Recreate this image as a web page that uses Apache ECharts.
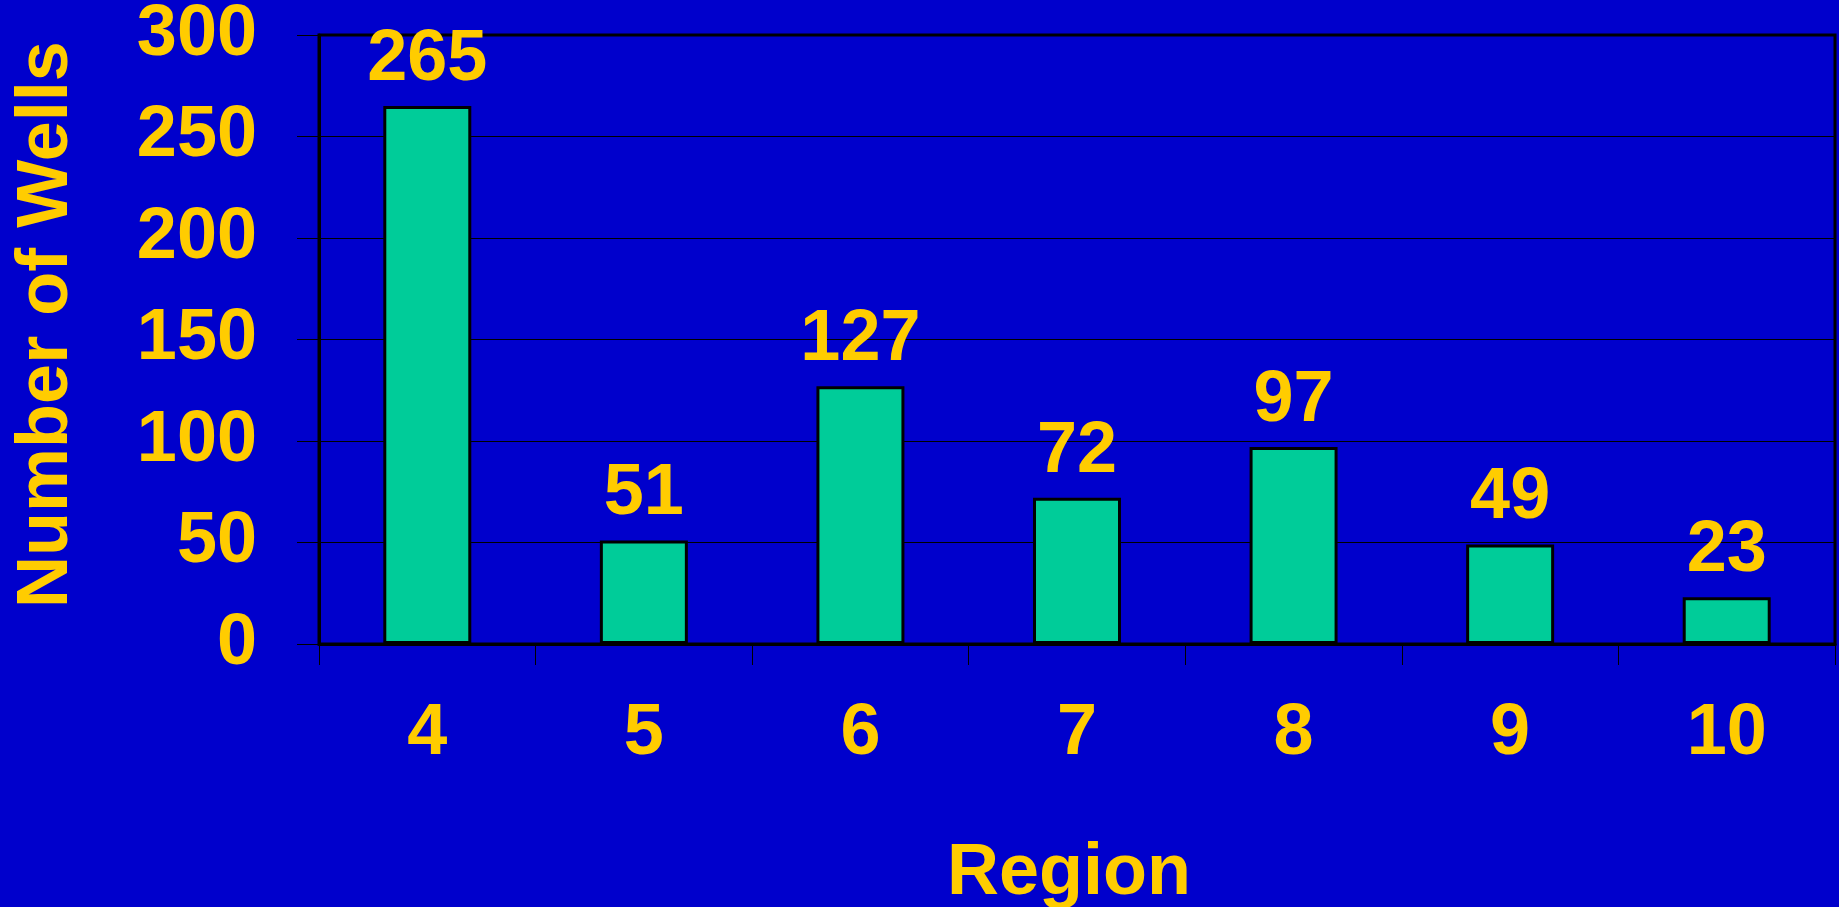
<!DOCTYPE html>
<html>
<head>
<meta charset="utf-8">
<script src="https://cdn.jsdelivr.net/npm/echarts@6/dist/echarts.min.js"></script>
<style>
  html, body { margin: 0; padding: 0; background: #0000CC; }
  #chart { width: 1839px; height: 907px; }
</style>
</head>
<body>
<div id="chart"></div>
<script>
// Wells counted per region
const regions = ['4', '5', '6', '7', '8', '9', '10'];
const wellCounts = [265, 51, 127, 72, 97, 49, 23];
const yTicks = { min: 0, max: 300, interval: 50 };

const FONT = '"Liberation Sans", Arial, sans-serif';
const YELLOW = '#FFCC00';

const chart = echarts.init(document.getElementById('chart'), null, { renderer: 'canvas' });

chart.setOption({
  backgroundColor: '#0000CC',
  animation: false,
  grid: {
    left: 319, right: 4, top: 35, bottom: 263,
    outerBoundsMode: 'none', containLabel: false,
    show: true, borderColor: '#000', borderWidth: 3, backgroundColor: 'transparent'
  },
  xAxis: {
    type: 'category',
    data: regions,
    name: 'Region',
    nameLocation: 'middle',
    nameGap: 194,
    nameTextStyle: { color: YELLOW, fontFamily: FONT, fontWeight: 'bold', fontSize: 72, padding: [0, 16, 0, 0] },
    axisLine: { show: true, lineStyle: { color: '#000', width: 3 } },
    axisTick: { show: true, alignWithLabel: false, length: 21, lineStyle: { color: '#000', width: 1 } },
    axisLabel: { color: YELLOW, fontFamily: FONT, fontWeight: 'bold', fontSize: 72, margin: 54 }
  },
  yAxis: {
    type: 'value',
    min: yTicks.min, max: yTicks.max, interval: yTicks.interval,
    name: 'Number of Wells',
    nameLocation: 'middle',
    nameGap: 236,
    nameRotate: 90,
    nameTextStyle: { color: YELLOW, fontFamily: FONT, fontWeight: 'bold', fontSize: 72, padding: [0, 0, 0, 30] },
    axisLine: { show: true, lineStyle: { color: '#000', width: 3 } },
    axisTick: { show: true, length: 22, lineStyle: { color: '#000', width: 1 } },
    axisLabel: { color: YELLOW, fontFamily: FONT, fontWeight: 'bold', fontSize: 72, margin: 62 },
    splitLine: { show: true, lineStyle: { color: '#000', width: 1 } }
  },
  series: [{
    type: 'bar',
    data: wellCounts,
    barWidth: 88,
    itemStyle: { color: '#00CC99', borderColor: '#000', borderWidth: 3 },
    label: {
      show: true, position: 'top', distance: 10,
      color: YELLOW, fontFamily: FONT, fontWeight: 'bold', fontSize: 72
    }
  }]
});
</script>
</body>
</html>
